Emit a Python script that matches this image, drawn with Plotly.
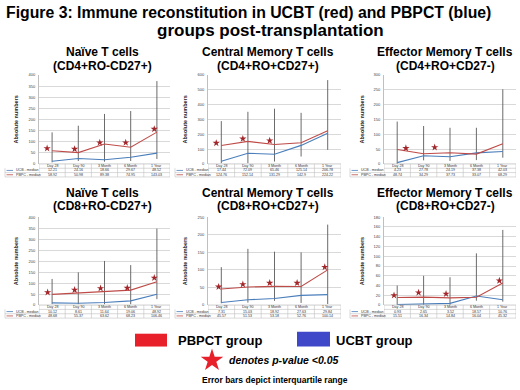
import plotly.graph_objects as go

# ---------------- data ----------------
categories = ["Day 28", "Day 90", "3 Month", "6 Month", "1 Year"]

panel_titles = [
    ("Naïve T cells", "(CD4+RO-CD27+)"),
    ("Central Memory T cells", "(CD4+RO+CD27+)"),
    ("Effector Memory T cells", "(CD4+RO+CD27-)"),
    ("Naïve T cells", "(CD8+RO-CD27+)"),
    ("Central Memory T cells", "(CD8+RO+CD27+)"),
    ("Effector Memory T cells", "(CD8+RO+CD27-)"),
]

naive_cd4_ucb = [12.21, 24.16, 18.66, 29.67, 48.52]
naive_cd4_pbpc = [58.92, 50.98, 89.38, 74.95, 143.03]
naive_cd4_iqr_low = [7, 13, 10, 13, 22]
naive_cd4_iqr_high = [142, 172, 225, 238, 373]
naive_cd4_star_x = [-0.19, 0.86, 1.82, 2.81, 3.9]
naive_cd4_star_y = [70, 67, 96, 96, 157]

cm_cd4_ucb = [17.44, 72.09, 65.46, 125.14, 206.78]
cm_cd4_pbpc = [124.76, 152.14, 131.29, 142.9, 224.22]
cm_cd4_iqr_low = [5, 5, 16, 50, 95]
cm_cd4_iqr_high = [289, 352, 373, 345, 566]
cm_cd4_star_x = [-0.19, 0.81, 1.82]
cm_cd4_star_y = [141, 170, 157]

em_cd4_ucb = [4.23, 27.78, 24.19, 37.38, 42.03]
em_cd4_pbpc = [48.74, 34.29, 37.73, 33.07, 68.29]
em_cd4_iqr_low = [0, 12, 10, 13, 21]
em_cd4_iqr_high = [143, 128, 122, 122, 252]
em_cd4_star_x = [-0.76, 0.33, 1.42]
em_cd4_star_y = [66, 53, 56]

naive_cd8_ucb = [10.12, 8.61, 11.64, 19.06, 48.92]
naive_cd8_pbpc = [48.68, 55.37, 63.62, 68.23, 106.46]
naive_cd8_iqr_low = [4, 4, 4, 4, 27]
naive_cd8_iqr_high = [119, 149, 201, 182, 348]
naive_cd8_star_x = [-0.17, 0.86, 1.85, 2.87, 3.9]
naive_cd8_star_y = [58, 69, 76, 78, 124]

cm_cd8_ucb = [7.31, 15.03, 18.92, 27.63, 29.84]
cm_cd8_pbpc = [45.57, 51.53, 53.18, 52.76, 100.14]
cm_cd8_iqr_low = [5, 7, 12, 6, 3]
cm_cd8_iqr_high = [108, 160, 152, 150, 229]
cm_cd8_star_x = [-0.1, 0.81, 1.82, 2.85, 3.89]
cm_cd8_star_y = [52, 59, 63, 63, 108]

em_cd8_ucb = [0.93, 2.65, 3.52, 18.57, 10.76]
em_cd8_pbpc = [15.51, 16.34, 14.84, 16.04, 45.32]
em_cd8_iqr_low = [0, 0, 0, 9, 7]
em_cd8_iqr_high = [40, 60, 57, 106, 154]
em_cd8_star_x = [-0.12, 0.81, 1.85, 3.87]
em_cd8_star_y = [20, 25.5, 23, 50]

y_max = [400, 600, 300, 400, 250, 180]
y_step = [50, 100, 50, 50, 50, 20]

series_ucb = [naive_cd4_ucb, cm_cd4_ucb, em_cd4_ucb, naive_cd8_ucb, cm_cd8_ucb, em_cd8_ucb]
series_pbpc = [naive_cd4_pbpc, cm_cd4_pbpc, em_cd4_pbpc, naive_cd8_pbpc, cm_cd8_pbpc, em_cd8_pbpc]
iqr_low = [naive_cd4_iqr_low, cm_cd4_iqr_low, em_cd4_iqr_low, naive_cd8_iqr_low, cm_cd8_iqr_low, em_cd8_iqr_low]
iqr_high = [naive_cd4_iqr_high, cm_cd4_iqr_high, em_cd4_iqr_high, naive_cd8_iqr_high, cm_cd8_iqr_high, em_cd8_iqr_high]
star_x = [naive_cd4_star_x, cm_cd4_star_x, em_cd4_star_x, naive_cd8_star_x, cm_cd8_star_x, em_cd8_star_x]
star_y = [naive_cd4_star_y, cm_cd4_star_y, em_cd4_star_y, naive_cd8_star_y, cm_cd8_star_y, em_cd8_star_y]

# ---------------- layout helpers ----------------
W, H = 520, 390
FONT = "Liberation Sans, Arial, sans-serif"


def px(x):
    return x / W


def py(y):
    return 1 - y / H


col_plot = [(39, 170), (208, 341), (384, 516)]
col_table_left = [5, 175, 350]
col_title_cx = [102, 268, 445]
col_ytitle_x = [16, 185, 362]
row_plot = [(73, 163), (217, 306)]
row_title_y = [(50, 63.5), (192, 206)]
ROW_H = 4.4

BLUE = "#4a7ebb"
RED = "#be4b48"
STAR = "#a3262b"
GRID = "#d9d9d9"
BORDER = "#bfbfbf"
ERR = "#5a5a5a"

fig = go.Figure()
annotations = []
shapes = []
layout_axes = {}

for i in range(6):
    r, c = divmod(i, 3)
    x0, x1 = col_plot[c]
    y0, y1 = row_plot[r]
    xa = "x" if i == 0 else f"x{i + 1}"
    ya = "y" if i == 0 else f"y{i + 1}"
    xkey = "xaxis" if i == 0 else f"xaxis{i + 1}"
    ykey = "yaxis" if i == 0 else f"yaxis{i + 1}"
    xs = list(range(len(categories)))

    layout_axes[xkey] = dict(
        domain=[px(x0), px(x1)], range=[-0.5, len(categories) - 0.5],
        anchor=ya, showticklabels=False, showgrid=False, zeroline=False,
        showline=False, ticks="", fixedrange=True,
    )
    layout_axes[ykey] = dict(
        domain=[py(y1), py(y0)], range=[0, y_max[i]], dtick=y_step[i],
        anchor=xa, showgrid=True, gridcolor=GRID, gridwidth=0.6,
        zeroline=False, showline=True, linecolor=BORDER, linewidth=0.8,
        ticks="", tickfont=dict(size=4, color="#404040", family=FONT),
        ticklabelstandoff=2, fixedrange=True,
    )

    # error bars (interquartile range)
    fig.add_trace(go.Scatter(
        x=xs, y=series_pbpc[i], xaxis=xa, yaxis=ya, mode="markers",
        marker=dict(size=1, opacity=0), showlegend=False, hoverinfo="skip",
        error_y=dict(type="data", symmetric=False,
                     array=[h - v for h, v in zip(iqr_high[i], series_pbpc[i])],
                     arrayminus=[v - l for l, v in zip(iqr_low[i], series_pbpc[i])],
                     width=0, thickness=0.9, color=ERR),
    ))
    fig.add_trace(go.Scatter(
        x=xs, y=series_ucb[i], xaxis=xa, yaxis=ya, mode="lines",
        line=dict(color=BLUE, width=1.1), showlegend=False, name="UCB - median",
    ))
    fig.add_trace(go.Scatter(
        x=xs, y=series_pbpc[i], xaxis=xa, yaxis=ya, mode="lines",
        line=dict(color=RED, width=1.1), showlegend=False, name="PBPC - median",
    ))
    fig.add_trace(go.Scatter(
        x=star_x[i], y=star_y[i], xaxis=xa, yaxis=ya, mode="markers",
        marker=dict(symbol="star", size=5.5, color=STAR, line=dict(width=0)),
        showlegend=False, cliponaxis=False, hoverinfo="skip",
    ))

    # panel titles
    t1, t2 = panel_titles[i]
    ty1, ty2 = row_title_y[r]
    for txt, yy in ((t1, ty1), (t2, ty2)):
        annotations.append(dict(
            text=f"<b>{txt}</b>", x=px(col_title_cx[c]), y=py(yy), xref="paper", yref="paper",
            xanchor="center", yanchor="middle", showarrow=False,
            font=dict(size=12, color="#000", family=FONT)))
    # y-axis title
    annotations.append(dict(
        text="<b>Absolute numbers</b>", x=px(col_ytitle_x[c]), y=py((y0 + y1) / 2),
        xref="paper", yref="paper", textangle=-90, showarrow=False,
        xanchor="center", yanchor="middle", font=dict(size=5.5, color="#222", family=FONT)))

    # data table under the x-axis
    tb0 = y1
    rows_y = [tb0 + ROW_H * k for k in range(4)]
    tl = col_table_left[c]
    line_style = dict(color=BORDER, width=0.6)
    shapes.append(dict(type="line", xref=xa, yref="paper", x0=-0.5, x1=len(categories) - 0.5,
                       y0=py(rows_y[1]), y1=py(rows_y[1]), line=line_style))
    for k in (2, 3):
        shapes.append(dict(type="line", xref="paper", yref="paper", x0=px(tl), x1=px(x1),
                           y0=py(rows_y[k]), y1=py(rows_y[k]), line=line_style))
    shapes.append(dict(type="line", xref="paper", yref="paper", x0=px(tl), x1=px(tl),
                       y0=py(rows_y[1]), y1=py(rows_y[3]), line=line_style))
    for b in range(len(categories) + 1):
        shapes.append(dict(type="line", xref=xa, yref="paper", x0=b - 0.5, x1=b - 0.5,
                           y0=py(rows_y[0]), y1=py(rows_y[3]), line=line_style))
    shapes.append(dict(type="line", xref=xa, yref="paper", x0=-0.5, x1=len(categories) - 0.5,
                       y0=py(rows_y[0]), y1=py(rows_y[0]), line=dict(color=BORDER, width=0.8)))
    for j, cat in enumerate(categories):
        annotations.append(dict(text=cat, x=j, y=py(rows_y[0] + ROW_H / 2), xref=xa, yref="paper",
                                showarrow=False, xanchor="center", yanchor="middle",
                                font=dict(size=3.6, color="#333", family=FONT)))
        for vals, k in ((series_ucb[i], 1), (series_pbpc[i], 2)):
            annotations.append(dict(text=str(vals[j]), x=j, y=py(rows_y[k] + ROW_H / 2),
                                    xref=xa, yref="paper", showarrow=False,
                                    xanchor="center", yanchor="middle",
                                    font=dict(size=3.6, color="#333", family=FONT)))
    for k, lab, colr in ((1, "UCB - median", BLUE), (2, "PBPC - median", RED)):
        ym = rows_y[k] + ROW_H / 2
        shapes.append(dict(type="line", xref="paper", yref="paper", x0=px(tl + 1.5), x1=px(tl + 8),
                           y0=py(ym), y1=py(ym), line=dict(color=colr, width=0.8)))
        annotations.append(dict(text=lab, x=px(tl + 9), y=py(ym), xref="paper", yref="paper",
                                showarrow=False, xanchor="left", yanchor="middle",
                                font=dict(size=3.6, color="#333", family=FONT)))

# overlay axis (transparent) for the bottom key star
layout_axes["xaxis7"] = dict(domain=[0, 1], range=[0, W], visible=False, anchor="y7", fixedrange=True)
layout_axes["yaxis7"] = dict(domain=[0, 1], range=[H, 0], visible=False, anchor="x7", fixedrange=True)
fig.add_trace(go.Scatter(x=[212], y=[362], xaxis="x7", yaxis="y7", mode="markers",
                         marker=dict(symbol="star", size=17, color="#e8202a", line=dict(width=0)),
                         showlegend=False, hoverinfo="skip"))

# key rectangles & texts
shapes.append(dict(type="rect", xref="paper", yref="paper", x0=px(135), x1=px(167),
                   y0=py(348), y1=py(335), fillcolor="#e8202a", line=dict(width=0)))
shapes.append(dict(type="rect", xref="paper", yref="paper", x0=px(297), x1=px(330),
                   y0=py(348), y1=py(333), fillcolor="#3f48c8", line=dict(width=0)))
annotations.append(dict(text="<b>PBPCT group</b>", x=px(176), y=py(341.5), xref="paper", yref="paper",
                        showarrow=False, xanchor="left", yanchor="middle",
                        font=dict(size=13, color="#000", family=FONT)))
annotations.append(dict(text="<b>UCBT group</b>", x=px(334), y=py(341.5), xref="paper", yref="paper",
                        showarrow=False, xanchor="left", yanchor="middle",
                        font=dict(size=13, color="#000", family=FONT)))
annotations.append(dict(text="<b><i>denotes p-value &lt;0.05</i></b>", x=px(227), y=py(362),
                        xref="paper", yref="paper", showarrow=False, xanchor="left", yanchor="middle",
                        font=dict(size=10.5, color="#000", family=FONT)))
annotations.append(dict(text="<b>Error bars depict interquartile range</b>", x=px(200), y=py(382),
                        xref="paper", yref="paper", showarrow=False, xanchor="left", yanchor="middle",
                        font=dict(size=8.5, color="#000", family=FONT)))

# figure title
annotations.append(dict(text="<b>Figure 3: Immune reconstitution in UCBT (red) and PBPCT (blue)</b>",
                        x=px(248), y=py(10), xref="paper", yref="paper", showarrow=False,
                        xanchor="center", yanchor="middle", font=dict(size=15.8, color="#000", family=FONT)))
annotations.append(dict(text="<b>groups post-transplantation</b>",
                        x=px(270), y=py(28), xref="paper", yref="paper", showarrow=False,
                        xanchor="center", yanchor="middle", font=dict(size=17, color="#000", family=FONT)))

fig.update_layout(
    width=W, height=H, autosize=False,
    margin=dict(l=0, r=0, t=0, b=0),
    paper_bgcolor="white", plot_bgcolor="rgba(0,0,0,0)",
    showlegend=False, annotations=annotations, shapes=shapes,
    font=dict(family=FONT),
    **layout_axes,
)

fig.write_html("out.html", config={"displayModeBar": False},
               post_script="document.body.style.margin='0';")
